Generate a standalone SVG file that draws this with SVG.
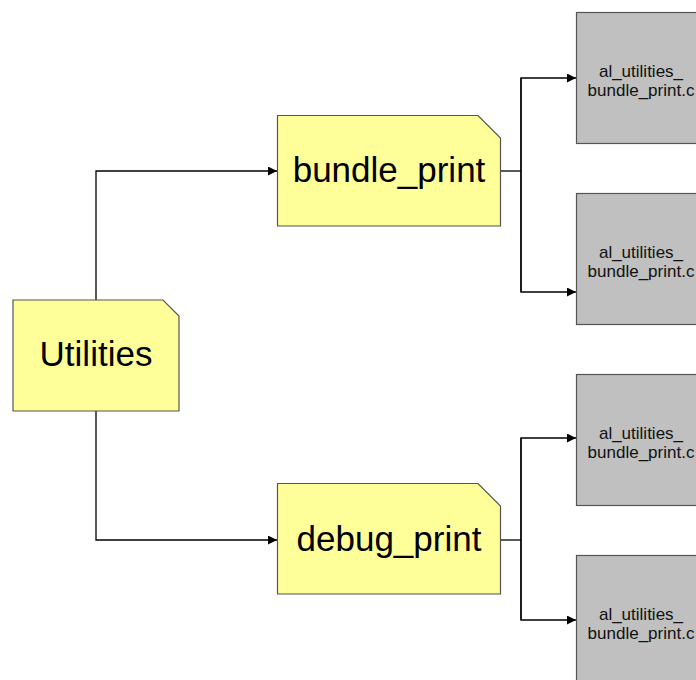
<svg xmlns="http://www.w3.org/2000/svg" width="696" height="680" viewBox="0 0 696 680">
<defs>
<style>
.note{fill:#ffff99;stroke:#555555;stroke-width:1.2}
.file{fill:#c0c0c0;stroke:#555555;stroke-width:1.2}
.big{font-family:"Liberation Sans",Arial,sans-serif;font-size:35px;fill:#000;text-anchor:middle}
.small{font-family:"Liberation Sans",Arial,sans-serif;font-size:17px;fill:#111;text-anchor:middle}
.edge{fill:none;stroke:#000;stroke-width:1.3}
</style>
<marker id="arr" viewBox="0 0 10 10" refX="10" refY="5" markerWidth="10" markerHeight="9" markerUnits="userSpaceOnUse" orient="auto">
<path d="M0,0 L10,5 L0,10 z" fill="#000"/>
</marker>
</defs>
<rect width="696" height="680" fill="#fff"/>
<g id="connectors">
<path class="edge" d="M96,300 V171 H277" marker-end="url(#arr)"/>
<path class="edge" d="M96,411 V540 H277" marker-end="url(#arr)"/>
<path class="edge" d="M501,171 H521"/>
<path class="edge" d="M521,292 V78 H576" marker-end="url(#arr)"/>
<path class="edge" d="M521,78 V292 H576" marker-end="url(#arr)"/>
<path class="edge" d="M501,540 H521"/>
<path class="edge" d="M521,620 V438 H576" marker-end="url(#arr)"/>
<path class="edge" d="M521,438 V620 H576" marker-end="url(#arr)"/>
</g>
<g id="utilities">
<path class="note" d="M13,300 H163 L179,316 V411 H13 Z"/>
<text class="big" x="96" y="366">Utilities</text>
</g>
<g id="bundle_print">
<path class="note" d="M277.5,115.5 H478 L500.5,138 V226 H277.5 Z"/>
<text class="big" x="389" y="182">bundle_print</text>
</g>
<g id="debug_print">
<path class="note" d="M277.5,483.5 H478 L500.5,506 V594 H277.5 Z"/>
<text class="big" x="389" y="551">debug_print</text>
</g>
<g id="file1">
<rect class="file" x="576.5" y="12.5" width="135" height="131"/>
<text class="small" x="641" y="77">al_utilities_</text>
<text class="small" x="641" y="96">bundle_print.c</text>
</g>
<g id="file2">
<rect class="file" x="576.5" y="193.5" width="135" height="131"/>
<text class="small" x="641" y="258">al_utilities_</text>
<text class="small" x="641" y="277">bundle_print.c</text>
</g>
<g id="file3">
<rect class="file" x="576.5" y="374.5" width="135" height="131"/>
<text class="small" x="641" y="439">al_utilities_</text>
<text class="small" x="641" y="458">bundle_print.c</text>
</g>
<g id="file4">
<rect class="file" x="576.5" y="555.5" width="135" height="131"/>
<text class="small" x="641" y="620">al_utilities_</text>
<text class="small" x="641" y="639">bundle_print.c</text>
</g>
</svg>
